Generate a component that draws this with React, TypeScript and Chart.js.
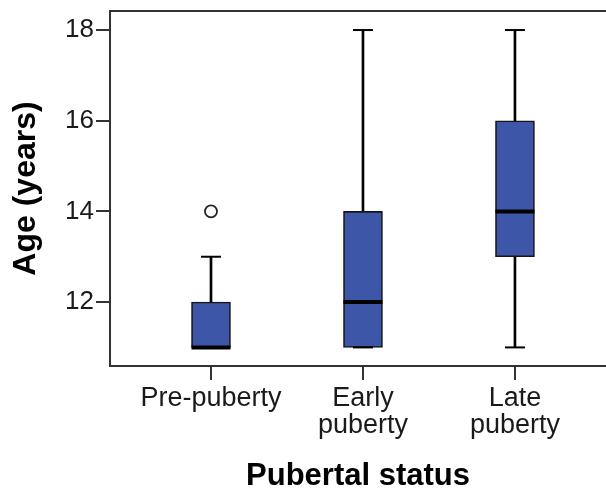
import { useEffect, useRef } from 'react';
import { Chart, registerables } from 'chart.js';
Chart.register(...registerables);

const categories: (string | string[])[] = ['Pre-puberty', ['Early', 'puberty'], ['Late', 'puberty']];
const positions = [1, 2, 3];
const whiskerLow = [11, 11, 11];
const q1 = [11, 11, 13];
const median = [11, 12, 14];
const q3 = [12, 14, 16];
const whiskerHigh = [13, 18, 18];
const outlierPos = [1];
const outlierVal = [14];
const yTicks = [12, 14, 16, 18];

const FONT = "'Liberation Sans', Arial, sans-serif";

const noPad = (s: any) => {
  s.paddingLeft = 0;
  s.paddingRight = 0;
  s.paddingTop = 0;
  s.paddingBottom = 0;
};

export default function App() {
  const ref = useRef<HTMLCanvasElement>(null);
  useEffect(() => {
    document.body.style.margin = '0';
    const ctx = ref.current!;
    const boxColor = '#3E56A8';
    const chart = new Chart(ctx, {
      type: 'bar',
      data: {
        datasets: [
          {
            type: 'scatter',
            data: outlierPos.map((p, i) => ({ x: p, y: outlierVal[i] })),
            pointStyle: 'circle',
            radius: 6,
            borderWidth: 1.8,
            borderColor: '#222',
            backgroundColor: '#fff',
            order: 1,
          } as any,
          {
            type: 'scatter',
            data: positions.map((p, i) => ({ x: p, y: median[i] })),
            pointStyle: 'line',
            radius: 19.5,
            borderWidth: 4,
            borderColor: '#000',
            order: 2,
          } as any,
          {
            type: 'scatter',
            data: [
              ...positions.map((p, i) => ({ x: p, y: whiskerHigh[i] })),
              ...positions.map((p, i) => ({ x: p, y: whiskerLow[i] })),
            ],
            pointStyle: 'line',
            radius: 10,
            borderWidth: 2,
            borderColor: '#000',
            order: 3,
          } as any,
          {
            type: 'bar',
            data: positions.map((p, i) => ({ x: p, y: [q1[i], q3[i]] })),
            backgroundColor: boxColor,
            borderColor: '#151515',
            borderWidth: 1.6,
            borderSkipped: false,
            barThickness: 39,
            grouped: false,
            order: 4,
          } as any,
          {
            type: 'bar',
            data: positions.map((p, i) => ({ x: p, y: [q3[i], whiskerHigh[i]] })),
            backgroundColor: '#000',
            borderWidth: 0,
            barThickness: 2,
            grouped: false,
            order: 5,
          } as any,
          {
            type: 'bar',
            data: positions.map((p, i) => ({ x: p, y: [whiskerLow[i], q1[i]] })),
            backgroundColor: '#000',
            borderWidth: 0,
            barThickness: 2,
            grouped: false,
            order: 6,
          } as any,
        ],
      },
      options: {
        animation: false,
        responsive: false,
        events: [],
        layout: { autoPadding: false, padding: { top: 11, left: 0, right: 0, bottom: 0 } },
        plugins: { legend: { display: false }, tooltip: { enabled: false } },
        scales: {
          x: {
            type: 'linear',
            position: 'bottom',
            offset: false,
            min: 0.3355,
            max: 3.599,
            afterBuildTicks: (s: any) => {
              s.ticks = positions.map((v) => ({ value: v }));
            },
            afterFit: (s: any) => {
              s.height = 123;
              noPad(s);
            },
            ticks: {
              autoSkip: false,
              maxRotation: 0,
              minRotation: 0,
              padding: 5,
              color: '#1a1a1a',
              font: { family: FONT, size: 27, lineHeight: 1.0 },
              callback: (v: any) => categories[positions.indexOf(Number(v))] as any,
            },
            grid: { offset: false, drawOnChartArea: false, tickLength: 14, color: '#333', lineWidth: 2 },
            border: { display: true, color: '#333', width: 2 },
            title: {
              display: true,
              text: 'Pubertal status',
              color: '#000',
              font: { family: FONT, size: 31, weight: 'bold', lineHeight: '26px' as any },
              padding: 0,
            },
          },
          x2: {
            type: 'linear',
            position: 'top',
            offset: false,
            min: 0.3355,
            max: 3.599,
            afterFit: (s: any) => {
              s.height = 0;
              noPad(s);
            },
            ticks: { display: false },
            grid: { offset: false, drawOnChartArea: false, drawTicks: false },
            border: { display: true, color: '#333', width: 2 },
          },
          y: {
            type: 'linear',
            min: 10.59,
            max: 18.42,
            afterBuildTicks: (s: any) => {
              s.ticks = yTicks.map((v) => ({ value: v }));
            },
            afterFit: (s: any) => {
              s.width = 110;
              noPad(s);
            },
            ticks: {
              padding: 2,
              color: '#1a1a1a',
              font: { family: FONT, size: 26 },
            },
            grid: { drawOnChartArea: false, tickLength: 14, color: '#333', lineWidth: 2 },
            border: { display: true, color: '#333', width: 2 },
            title: {
              display: true,
              text: 'Age (years)',
              color: '#000',
              font: { family: FONT, size: 32, weight: 'bold' },
              padding: { top: 6.5, bottom: 0 },
            },
          },
        },
      } as any,
    });
    return () => chart.destroy();
  }, []);
  return <canvas ref={ref} width={606} height={489} style={{ display: 'block' }} />;
}
